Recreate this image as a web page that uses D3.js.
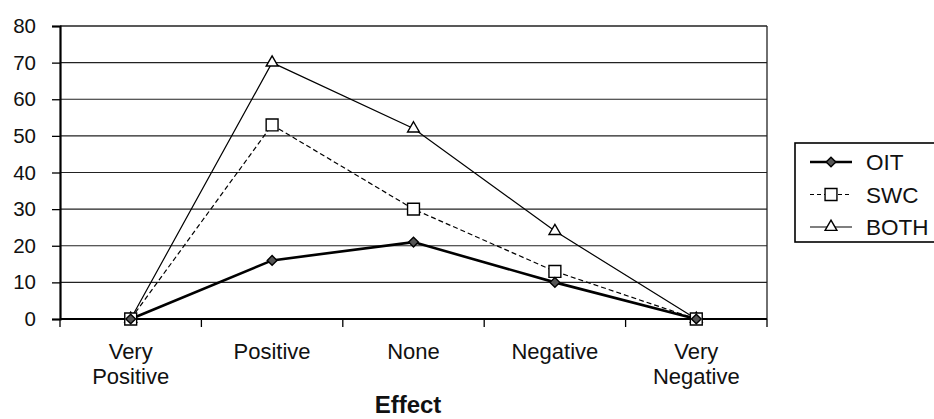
<!DOCTYPE html>
<html>
<head>
    <style>
        body { margin: 0; background: #fff; }
        svg { font-family: 'Liberation Sans', Arial, sans-serif; }
    </style>
</head>
<body>
    <div id="chart"></div>
    <script src="https://d3js.org/d3.v7.min.js"></script>
    <script>
        const categories = ["Very Positive", "Positive", "None", "Negative", "Very Negative"];
        const oit = [0, 16, 21, 10, 0];
        const swc = [0, 53, 30, 13, 0];
        const both = [0, 70, 52, 24, 0];
        const yTicks = [0, 10, 20, 30, 40, 50, 60, 70, 80];

        const [width, height] = [934, 419];
        const plot = {left: 60, right: 767, top: 26, bottom: 319};

        const svg = d3.select("#chart")
                        .append("svg")
                        .attr("width", width)
                        .attr("height", height);

        const x = d3.scaleBand()
                    .domain(categories)
                    .range([plot.left, plot.right]);

        const y = d3.scaleLinear()
                    .domain([0, 80])
                    .range([plot.bottom, plot.top]);

        // gridlines
        svg.append("g")
            .selectAll("line")
            .data(yTicks)
            .join("line")
            .attr("x1", plot.left)
            .attr("x2", plot.right)
            .attr("y1", d => y(d))
            .attr("y2", d => y(d))
            .attr("stroke", "#222")
            .attr("stroke-width", d => d == 80 ? 1.6 : 1.1);

        // right border of plot area
        svg.append("line")
            .attr("x1", plot.right).attr("x2", plot.right)
            .attr("y1", plot.top).attr("y2", plot.bottom)
            .attr("stroke", "#222").attr("stroke-width", 1.3);

        // y axis
        const yAxis = svg.append("g")
            .attr("transform", `translate(${plot.left},0)`)
            .call(d3.axisLeft(y).tickValues(yTicks).tickSize(8).tickPadding(16));
        yAxis.select(".domain").attr("stroke", "#000").attr("stroke-width", 2.2);
        yAxis.selectAll(".tick line").attr("stroke", "#000").attr("stroke-width", 1.3);
        yAxis.selectAll("text")
            .attr("font-size", 20.5)
            .attr("fill", "#111")
            .attr("font-family", "'Liberation Sans', Arial, sans-serif");

        // x axis, ticks between categories
        const bounds = categories.map(c => x(c)).concat([plot.right]);
        svg.append("line")
            .attr("x1", plot.left).attr("x2", plot.right)
            .attr("y1", y(0)).attr("y2", y(0))
            .attr("stroke", "#000").attr("stroke-width", 2.2);
        svg.append("g")
            .selectAll("line")
            .data(bounds)
            .join("line")
            .attr("x1", d => d).attr("x2", d => d)
            .attr("y1", y(0)).attr("y2", y(0) + 8)
            .attr("stroke", "#000").attr("stroke-width", 1.3);

        const xLabels = svg.append("g")
            .selectAll("text")
            .data(categories)
            .join("text")
            .attr("x", d => x(d) + x.bandwidth() / 2)
            .attr("y", y(0) + 40)
            .attr("text-anchor", "middle")
            .attr("font-size", 22)
            .attr("fill", "#111");
        xLabels.each(function(d) {
            const words = d.split(" ");
            const t = d3.select(this);
            words.forEach((w, i) => {
                t.append("tspan")
                    .attr("x", x(d) + x.bandwidth() / 2)
                    .attr("dy", i == 0 ? 0 : 24.5)
                    .text(w);
            });
        });

        svg.append("text")
            .attr("x", 408)
            .attr("y", 413)
            .attr("text-anchor", "middle")
            .attr("font-size", 24)
            .attr("font-weight", "bold")
            .attr("fill", "#111")
            .text("Effect");

        const cx = d => x(d) + x.bandwidth() / 2;
        const line = d3.line()
            .x((d, i) => cx(categories[i]))
            .y(d => y(d));

        const series = [
            {name: "OIT", values: oit, width: 2.6, dash: null, marker: d3.symbolDiamond2, size: 60, fill: "#555"},
            {name: "SWC", values: swc, width: 1.2, dash: "5,3", marker: d3.symbolSquare2, size: 180, fill: "#fff"},
            {name: "BOTH", values: both, width: 1.2, dash: null, marker: d3.symbolTriangle2, size: 100, fill: "#fff"}
        ];

        series.forEach(s => {
            svg.append("path")
                .datum(s.values)
                .attr("d", line)
                .attr("fill", "none")
                .attr("stroke", "#000")
                .attr("stroke-width", s.width)
                .attr("stroke-dasharray", s.dash);
        });

        series.slice().reverse().forEach(s => {
            svg.append("g")
                .selectAll("path")
                .data(s.values)
                .join("path")
                .attr("transform", (d, i) => `translate(${cx(categories[i])},${y(d)})`)
                .attr("d", d3.symbol().type(s.marker).size(s.size))
                .attr("fill", s.fill)
                .attr("stroke", "#000")
                .attr("stroke-width", 1.4);
        });

        // legend
        const legend = svg.append("g").attr("transform", "translate(795,143)");
        legend.append("rect")
            .attr("x", 0).attr("y", 0)
            .attr("width", 150).attr("height", 99)
            .attr("fill", "#fff")
            .attr("stroke", "#000")
            .attr("stroke-width", 1.6);
        series.forEach((s, i) => {
            const ly = 19 + i * 32.5;
            legend.append("line")
                .attr("x1", 15).attr("x2", 57)
                .attr("y1", ly).attr("y2", ly)
                .attr("stroke", "#000")
                .attr("stroke-width", s.width)
                .attr("stroke-dasharray", s.dash ? "4,3" : null);
            legend.append("path")
                .attr("transform", `translate(36,${ly})`)
                .attr("d", d3.symbol().type(s.marker).size(s.size))
                .attr("fill", s.fill)
                .attr("stroke", "#000")
                .attr("stroke-width", 1.4);
            legend.append("text")
                .attr("x", 71)
                .attr("y", ly + 8)
                .attr("font-size", 22.5)
                .attr("fill", "#111")
                .text(s.name);
        });
    </script>
</body>
</html>
